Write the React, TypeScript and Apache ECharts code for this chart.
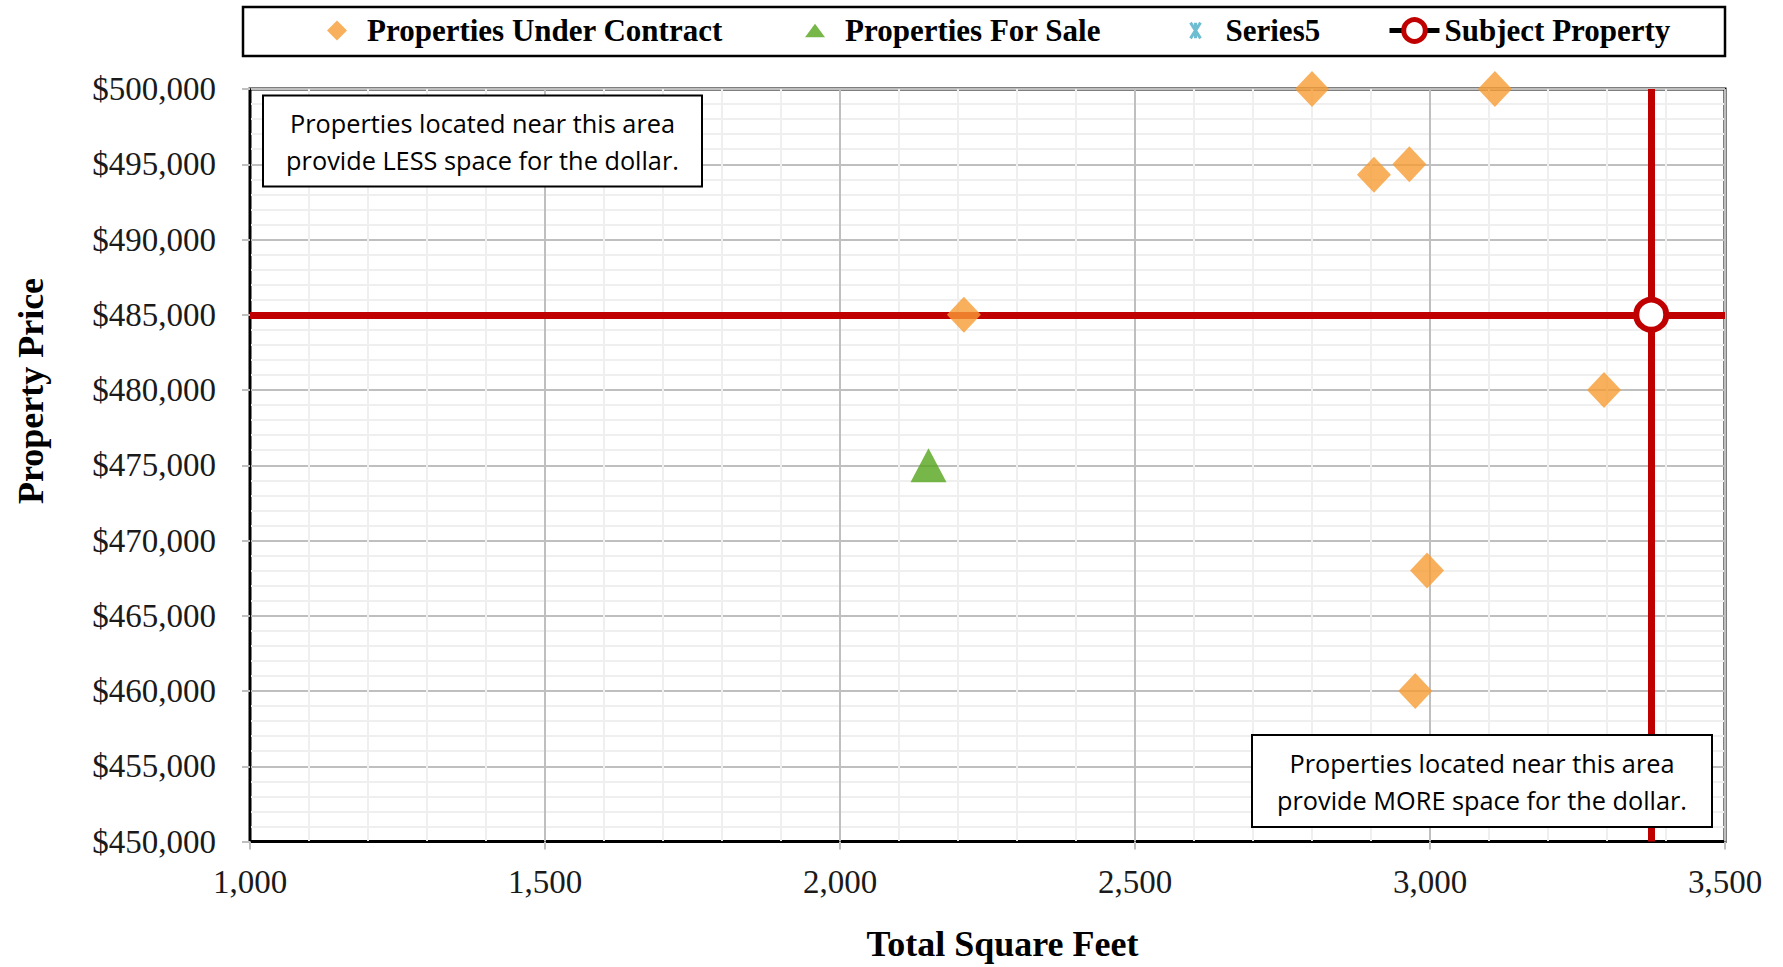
import React, { useEffect, useRef } from "react";
import * as echarts from "echarts";

// Comparable sales: square footage and price
const underContractSqft = [2800, 3110, 2905, 2965, 2210, 3295, 2995, 2975];
const underContractPrice = [500000, 500000, 494300, 495000, 485000, 480000, 468000, 460000];
const forSaleSqft = [2150];
const forSalePrice = [475000];
const series5Sqft: number[] = [];
const series5Price: number[] = [];
const subjectSqft = [3375];
const subjectPrice = [485000];

const seriesNames = [
  "Properties Under Contract",
  "Properties For Sale",
  "Series5",
  "Subject Property",
];

const xAxisRange = { min: 1000, max: 3500, interval: 500 };
const yAxisRange = { min: 450000, max: 500000, interval: 5000 };

const xTitle = "Total Square Feet";
const yTitle = "Property Price";
const noteLess = "Properties located near this area\nprovide LESS space for the dollar.";
const noteMore = "Properties located near this area\nprovide MORE space for the dollar.";

const SERIF = "'Liberation Serif', 'Times New Roman', serif";
const SANS = "'Open Sans', Lato, sans-serif";
const ORANGE = "#F79C34";
const GREEN = "#55A41A";
const TEAL = "#4BACC6";
const RED = "#C00000";
const MAJOR_GRID = "#BFBFBF";
const MINOR_GRID = "#EFEFEF";

// Legend glyphs; the zero-length segments pad the bounding box so the
// icon keeps a fixed size inside the legend cell.
const ICON_DIAMOND = "path://M0,10L10,0L20,10L10,20Z";
const ICON_TRIANGLE = "path://M0,16L9.5,3L19,16Z M0,0L0,0 M19,19L19,19";
const ICON_ASTERISK =
  "path://M0,1.5L7,12.5M7,1.5L0,12.5M3.5,1.5L3.5,12.5 M3.5,0L3.5,0 M3.5,14L3.5,14";

const pairs = (xs: number[], ys: number[]) => xs.map((x, i) => [x, ys[i]]);
const thousands = (v: number) => v.toLocaleString("en-US");

function noteBox(x: number, y: number, w: number, h: number, text: string) {
  return {
    type: "group",
    x,
    y,
    z: 20,
    children: [
      {
        type: "rect",
        z: 20,
        shape: { x: 0, y: 0, width: w, height: h },
        style: { fill: "#fff", stroke: "#000", lineWidth: 2 },
      },
      {
        type: "text",
        z: 21,
        x: w / 2,
        y: h / 2,
        style: {
          text,
          fill: "#000",
          fontFamily: SANS,
          fontSize: 25.3,
          lineHeight: 37,
          align: "center",
          verticalAlign: "middle",
        },
      },
    ],
  };
}

// One legend block per entry so each entry sits at its own spot in the key box.
function legendEntry(left: number, item: Record<string, unknown>, itemHeight = 20) {
  return {
    left,
    top: 15,
    padding: 0,
    itemWidth: 50,
    itemHeight,
    symbolKeepAspect: true,
    textStyle: { fontFamily: SERIF, fontWeight: "bold", fontSize: 31, color: "#000" },
    data: [item],
  };
}

export default function App() {
  const ref = useRef<HTMLDivElement>(null);

  useEffect(() => {
    document.body.style.margin = "0";
    if (!ref.current) return;
    const chart = echarts.init(ref.current, undefined, { renderer: "svg" });

    const axisCommon = {
      type: "value" as const,
      axisLine: { show: true, lineStyle: { color: "#000", width: 2 } },
      axisTick: { show: true, length: 8, lineStyle: { color: MAJOR_GRID, width: 2 } },
      minorTick: { show: false, splitNumber: 5 },
      splitLine: { show: true, lineStyle: { color: MAJOR_GRID, width: 2 } },
      minorSplitLine: { show: true, lineStyle: { color: MINOR_GRID, width: 2 } },
    };

    chart.setOption({
      animation: false,
      backgroundColor: "#fff",
      grid: {
        left: 250,
        right: 58,
        top: 89,
        bottom: 125.5,
        show: true,
        borderColor: "#000",
        borderWidth: 3,
        backgroundColor: "#fff",
      },
      legend: [
        legendEntry(327, { name: seriesNames[0], icon: ICON_DIAMOND }),
        legendEntry(805, { name: seriesNames[1], icon: ICON_TRIANGLE }),
        legendEntry(1188, {
          name: seriesNames[2],
          icon: ICON_ASTERISK,
          itemStyle: { color: "none", borderColor: TEAL, borderWidth: 3 },
        }),
        legendEntry(
          1387,
          {
            name: seriesNames[3],
            itemStyle: { color: "#fff", borderColor: RED, borderWidth: 5 },
            lineStyle: { color: "#000", width: 5 },
          },
          27
        ),
      ],
      xAxis: {
        ...axisCommon,
        min: xAxisRange.min,
        max: xAxisRange.max,
        interval: xAxisRange.interval,
        name: xTitle,
        nameLocation: "middle",
        nameGap: 84,
        nameTextStyle: {
          fontFamily: SERIF,
          fontWeight: "bold",
          fontSize: 36,
          color: "#000",
          padding: [0, 0, 0, 30],
        },
        axisLabel: {
          fontFamily: SERIF,
          fontSize: 33,
          color: "#1a1a1a",
          margin: 24,
          formatter: (v: number) => thousands(v),
        },
      },
      yAxis: {
        ...axisCommon,
        min: yAxisRange.min,
        max: yAxisRange.max,
        interval: yAxisRange.interval,
        axisLabel: {
          fontFamily: SERIF,
          fontSize: 33,
          color: "#1a1a1a",
          margin: 34,
          formatter: (v: number) => "$" + thousands(v),
        },
      },
      graphic: [
        {
          type: "rect",
          z: 0,
          shape: { x: 243, y: 7, width: 1482, height: 49 },
          style: { fill: "transparent", stroke: "#000", lineWidth: 2.5 },
        },
        {
          type: "text",
          x: 31,
          y: 391,
          rotation: Math.PI / 2,
          style: {
            text: yTitle,
            fill: "#000",
            fontFamily: SERIF,
            fontWeight: "bold",
            fontSize: 36,
            align: "center",
            verticalAlign: "middle",
          },
        },
        noteBox(263, 95.5, 439, 91, noteLess),
        noteBox(1252, 735, 460, 92, noteMore),
      ],
      series: [
        {
          name: "crosshair",
          type: "scatter",
          data: [],
          z: 3,
          markLine: {
            silent: true,
            z: 3,
            symbol: "none",
            label: { show: false },
            lineStyle: { color: RED, width: 7, type: "solid" },
            data: [{ xAxis: subjectSqft[0] }, { yAxis: subjectPrice[0] }],
          },
        },
        {
          name: seriesNames[0],
          type: "scatter",
          z: 5,
          clip: false,
          symbol: "diamond",
          symbolSize: [34, 36],
          itemStyle: { color: ORANGE },
          data: pairs(underContractSqft, underContractPrice),
        },
        {
          name: seriesNames[1],
          type: "scatter",
          z: 5,
          clip: false,
          symbol: "triangle",
          symbolSize: [36, 34],
          itemStyle: { color: GREEN },
          data: pairs(forSaleSqft, forSalePrice),
        },
        {
          name: seriesNames[2],
          type: "scatter",
          z: 5,
          symbol: ICON_ASTERISK,
          itemStyle: { color: "none", borderColor: TEAL, borderWidth: 3 },
          data: pairs(series5Sqft, series5Price),
        },
        {
          name: seriesNames[3],
          type: "line",
          z: 7,
          clip: false,
          symbol: "circle",
          symbolSize: 30,
          showSymbol: true,
          lineStyle: { color: "#000", width: 5 },
          itemStyle: { color: "#fff", borderColor: RED, borderWidth: 6 },
          data: pairs(subjectSqft, subjectPrice),
        },
      ],
    });

    return () => chart.dispose();
  }, []);

  return <div ref={ref} style={{ width: 1783, height: 967 }} />;
}
